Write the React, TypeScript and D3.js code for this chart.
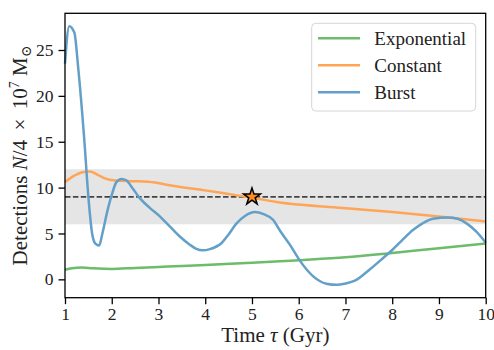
import { useEffect, useRef } from "react";
import * as d3 from "d3";

// Exponential star formation history
const expTime = [1.0, 1.15, 1.35, 1.6, 2.0, 2.5, 3.0, 3.5, 4.0, 5.0, 5.6, 6.0, 7.0, 8.0, 9.0, 10.0];
const expDet = [1.05, 1.2, 1.28, 1.2, 1.13, 1.25, 1.35, 1.45, 1.57, 1.8, 1.96, 2.08, 2.4, 2.88, 3.4, 3.9];

// Constant
const constTime = [1.0, 1.2, 1.35, 1.53, 1.7, 1.85, 2.07, 2.5, 2.92, 3.3, 4.0, 4.5, 5.0, 5.6, 6.0, 7.0, 8.0, 9.0, 10.0];
const constDet = [10.6, 11.3, 11.65, 11.75, 11.4, 11.0, 10.77, 10.7, 10.55, 10.2, 9.7, 9.3, 8.9, 8.38, 8.15, 7.75, 7.33, 6.86, 6.3];

// Burst
const burstTime = [1.0, 1.09, 1.2, 1.28, 1.41, 1.5, 1.58, 1.65, 1.73, 1.8, 1.9, 2.0, 2.1, 2.21, 2.31, 2.45, 2.6, 2.82, 3.0, 3.24, 3.45, 3.67, 3.8, 3.95, 4.1, 4.35, 4.5, 4.67, 4.85, 5.06, 5.25, 5.45, 5.6, 5.81, 6.02, 6.31, 6.59, 6.82, 7.0, 7.2, 7.5, 7.8, 8.0, 8.2, 8.45, 8.65, 8.87, 9.19, 9.4, 9.59, 9.8, 10.0];
const burstDet = [23.5, 27.6, 26.9, 23.2, 15.4, 9.0, 5.0, 3.9, 3.7, 5.0, 7.3, 9.2, 10.6, 10.95, 10.8, 9.9, 8.85, 7.77, 7.0, 5.77, 4.7, 3.78, 3.35, 3.16, 3.3, 3.96, 4.9, 6.1, 6.9, 7.33, 7.1, 6.5, 5.3, 3.78, 2.07, 0.33, -0.47, -0.6, -0.45, -0.15, 1.0, 2.3, 3.2, 4.2, 5.4, 6.1, 6.6, 6.75, 6.6, 6.1, 5.2, 4.0];

const seriesNames = ["Exponential", "Constant", "Burst"];
const seriesColors = ["#6bbc6b", "#ffa556", "#62a0ca"];

// observed value and its range
const observed = 9;
const observedLow = 6;
const observedHigh = 12;
const observedTime = 5;

const xTicks = [1, 2, 3, 4, 5, 6, 7, 8, 9, 10];
const yTicks = [0, 5, 10, 15, 20, 25];

const font = "'Liberation Serif', 'DejaVu Serif', serif";

export default function App() {
    const ref = useRef<SVGSVGElement>(null);

    useEffect(() => {
        const width = 494, height = 350;
        const margin = {top: 13.3, right: 8.3, bottom: 52.3, left: 65};

        const svg = d3.select(ref.current);
        svg.selectAll("*").remove();

        const x = d3.scaleLinear().domain([1, 10]).range([margin.left, width - margin.right]);
        const y = d3.scaleLinear().domain([-2, 29]).range([height - margin.bottom, margin.top]);

        // shaded range
        svg.append("rect")
            .attr("x", x(1))
            .attr("width", x(10) - x(1))
            .attr("y", y(observedHigh))
            .attr("height", y(observedLow) - y(observedHigh))
            .attr("fill", "#e5e5e5");

        svg.append("line")
            .attr("x1", x(1)).attr("x2", x(10))
            .attr("y1", y(observed)).attr("y2", y(observed))
            .attr("stroke", "#444")
            .attr("stroke-width", 1.7)
            .attr("stroke-dasharray", "5.5,2.4");

        const line = d3.line<[number, number]>()
            .x(d => x(d[0]))
            .y(d => y(d[1]))
            .curve(d3.curveMonotoneX);

        const series: [number, number][][] = [
            expTime.map((t, i) => [t, expDet[i]]),
            constTime.map((t, i) => [t, constDet[i]]),
            burstTime.map((t, i) => [t, burstDet[i]]),
        ];

        series.forEach((s, i) => {
            svg.append("path")
                .attr("d", line(s))
                .attr("fill", "none")
                .attr("stroke", seriesColors[i])
                .attr("stroke-width", 2.5)
                .attr("stroke-linejoin", "round");
        });

        // the star marker
        svg.append("path")
            .attr("d", d3.symbol().type(d3.symbolStar).size(88)())
            .attr("transform", `translate(${x(observedTime)},${y(observed)})`)
            .attr("fill", "#ff8c1f")
            .attr("stroke", "black")
            .attr("stroke-width", 1.5)
            .attr("stroke-linejoin", "miter");

        // axes
        const xAxis = svg.append("g")
            .attr("transform", `translate(0,${height - margin.bottom})`)
            .call(d3.axisBottom(x).tickValues(xTicks).tickSize(6.5).tickPadding(3.5).tickSizeOuter(0).tickFormat(d3.format("d")));
        const yAxis = svg.append("g")
            .attr("transform", `translate(${margin.left},0)`)
            .call(d3.axisLeft(y).tickValues(yTicks).tickSize(6.5).tickPadding(5).tickSizeOuter(0));

        [xAxis, yAxis].forEach(a => {
            a.select(".domain").remove();
            a.selectAll("line").attr("stroke", "black").attr("stroke-width", 1.3);
            a.selectAll("text")
                .attr("fill", "#222")
                .style("font-family", font)
                .style("font-size", "17.5px");
        });

        // frame
        svg.append("rect")
            .attr("x", x(1)).attr("y", margin.top)
            .attr("width", x(10) - x(1))
            .attr("height", height - margin.bottom - margin.top)
            .attr("fill", "none")
            .attr("stroke", "black")
            .attr("stroke-width", 1.3);

        // axis labels
        const xl = svg.append("text")
            .attr("x", (x(1) + x(10)) / 2)
            .attr("y", 341.5)
            .attr("text-anchor", "middle")
            .attr("fill", "#222")
            .style("font-family", font)
            .style("font-size", "21px");
        xl.append("tspan").text("Time ");
        xl.append("tspan").style("font-style", "italic").text("τ");
        xl.append("tspan").text(" (Gyr)");

        const yl = svg.append("text")
            .attr("transform", "rotate(-90)")
            .attr("x", -(margin.top + height - margin.bottom) / 2)
            .attr("y", 27)
            .attr("text-anchor", "middle")
            .attr("fill", "#222")
            .style("font-family", font)
            .style("font-size", "21px");
        yl.append("tspan").text("Detections ");
        yl.append("tspan").style("font-style", "italic").text("N");
        yl.append("tspan").text("/4 \u2009×\u2009 10");
        yl.append("tspan").attr("dy", -8).style("font-size", "14px").text("7");
        yl.append("tspan").attr("dy", 8).text(" M");
        yl.append("tspan").attr("dy", 4).style("font-size", "14px").text("⊙");

        // legend
        const lg = svg.append("g");
        lg.append("rect")
            .attr("x", 311.7).attr("y", 23.3)
            .attr("width", 164).attr("height", 87.7)
            .attr("rx", 4)
            .attr("fill", "white")
            .attr("fill-opacity", 0.8)
            .attr("stroke", "#d6d6d6");

        seriesNames.forEach((name, i) => {
            const ly = 38.3 + i * 27;
            lg.append("line")
                .attr("x1", 318).attr("x2", 360)
                .attr("y1", ly).attr("y2", ly)
                .attr("stroke", seriesColors[i])
                .attr("stroke-width", 2.5);
            lg.append("text")
                .attr("x", 374.3)
                .attr("y", ly + 7)
                .attr("fill", "#222")
                .style("font-family", font)
                .style("font-size", "19px")
                .text(name);
        });
    }, []);

    return <svg ref={ref} width={494} height={350} style={{position: "absolute", left: 0, top: 0, background: "white"}}/>;
}
